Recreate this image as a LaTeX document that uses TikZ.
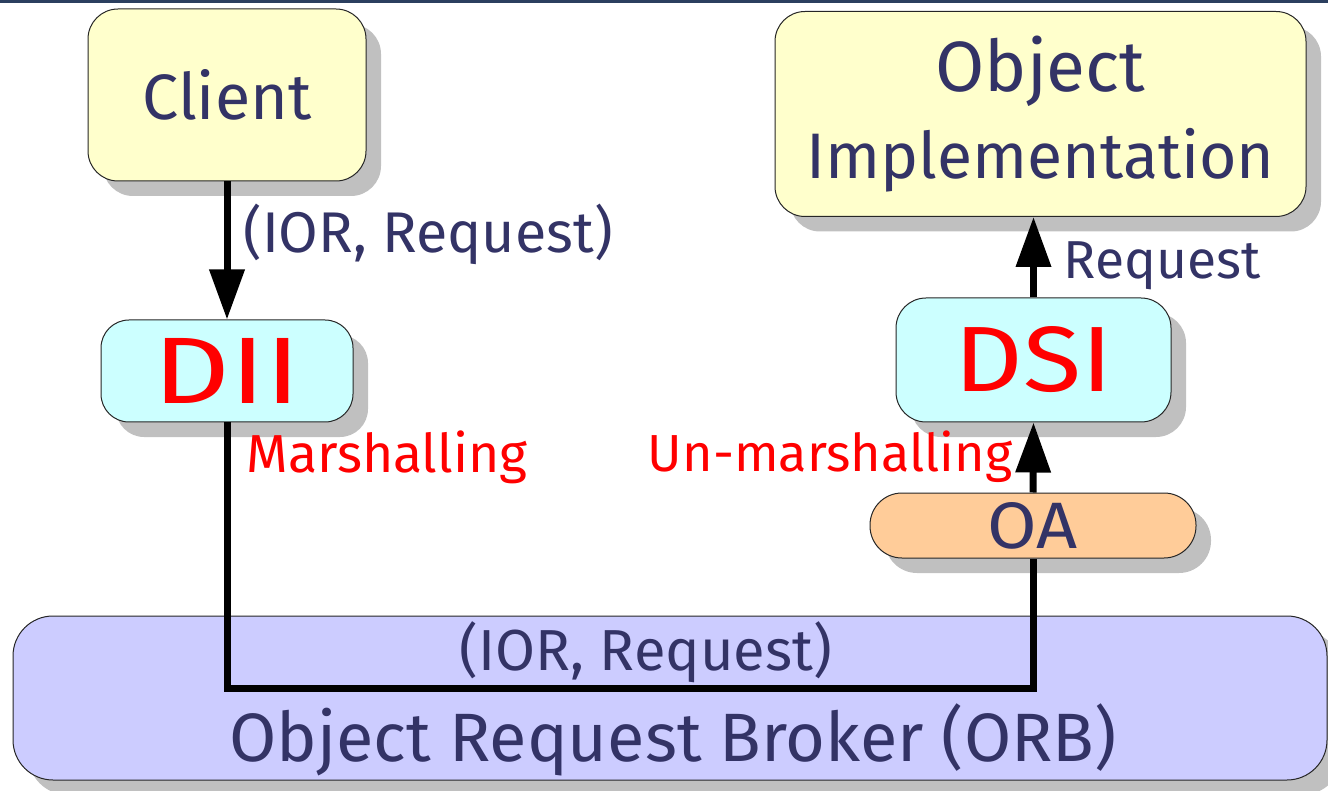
\documentclass[tikz,border=0pt]{standalone}
\usepackage{fontspec}
\setmainfont{Fira Sans}
\usetikzlibrary{arrows.meta,shadows}
\definecolor{navy}{HTML}{333366}
\definecolor{topbar}{HTML}{2B3F5F}
\definecolor{clientfill}{HTML}{FFFFCC}
\definecolor{cyanfill}{HTML}{CCFFFF}
\definecolor{oafill}{HTML}{FFCC99}
\definecolor{orbfill}{HTML}{CCCCFF}
\definecolor{shade}{HTML}{C0C0C0}
\newcommand{\fitw}[2]{\resizebox{#1}{!}{#2}}
\newcommand{\fitwh}[3]{\resizebox{#1}{#2}{#3}}
\tikzset{
  box/.style={draw=black!85, line width=1pt, align=center, inner sep=0pt,
    drop shadow={shadow xshift=15pt, shadow yshift=-15pt, fill=shade, opacity=1}},
  lbl/.style={inner sep=0pt, text=navy},
  redlbl/.style={inner sep=0pt, text=red},
  conn/.style={line width=7pt, draw=black, line join=miter},
  arr/.style={conn, -{Triangle[width=34pt,length=50pt]}}
}
\begin{document}
\begin{tikzpicture}[x=1pt,y=-1pt]
\useasboundingbox (0,0) rectangle (1328,791);
\fill[topbar] (0,0) rectangle (1328,3.5);
% boxes
\node[box, fill=orbfill, rounded corners=40pt, minimum width=1314pt, minimum height=164pt] (orb) at (670,698) {};
\node[box, fill=clientfill, rounded corners=30pt, minimum width=278pt, minimum height=172pt, text=navy] (client) at (227,95) {\raisebox{-4pt}{\fitwh{169pt}{50pt}{Client}}};
\node[box, fill=cyanfill, rounded corners=28pt, minimum width=252pt, minimum height=102pt, text=red] (dii) at (227,371) {\raisebox{-4pt}{\fitwh{147pt}{65pt}{DII}}};
\node[box, fill=clientfill, rounded corners=30pt, minimum width=531pt, minimum height=205pt, text=navy,
  font={\fontsize{10}{87}\selectfont}] (impl) at (1040.5,114) {\fitw{210pt}{Object}\\\fitw{468pt}{Implementation}};
\node[box, fill=cyanfill, rounded corners=30pt, minimum width=275pt, minimum height=124pt, text=red] (dsi) at (1033.5,360) {\fitwh{158pt}{65pt}{DSI}};
\node[box, fill=oafill, rounded corners=32pt, minimum width=326pt, minimum height=65pt, text=navy] (oa) at (1033,525.5) {\fitwh{90pt}{46pt}{OA}};
% labels
\node[lbl] (l1) at (428,234) {\fitw{369pt}{(IOR, Request)}};
\node[redlbl] (marsh) at (387,457) {\fitw{281pt}{Marshalling}};
\node[redlbl] (unmarsh) at (830,457) {\fitw{364pt}{Un-marshalling}};
\node[lbl] (req) at (1162,266) {\fitw{197pt}{Request}};
\node[lbl] (l2) at (646,652) {\fitw{372pt}{(IOR, Request)}};
\node[lbl] (orbtxt) at (673,740) {\fitw{887pt}{Object Request Broker (ORB)}};
% connectors
\coordinate (bend) at (227,688);
\draw[arr] (client.south) -- (client.south |- dii.north);
\draw[conn] (dii.south) -- (bend) -| (oa.south);
\draw[arr] (oa.north) -- (dsi.south);
\draw[arr] (dsi.north) -- (dsi.north |- impl.south);
\end{tikzpicture}
\end{document}
